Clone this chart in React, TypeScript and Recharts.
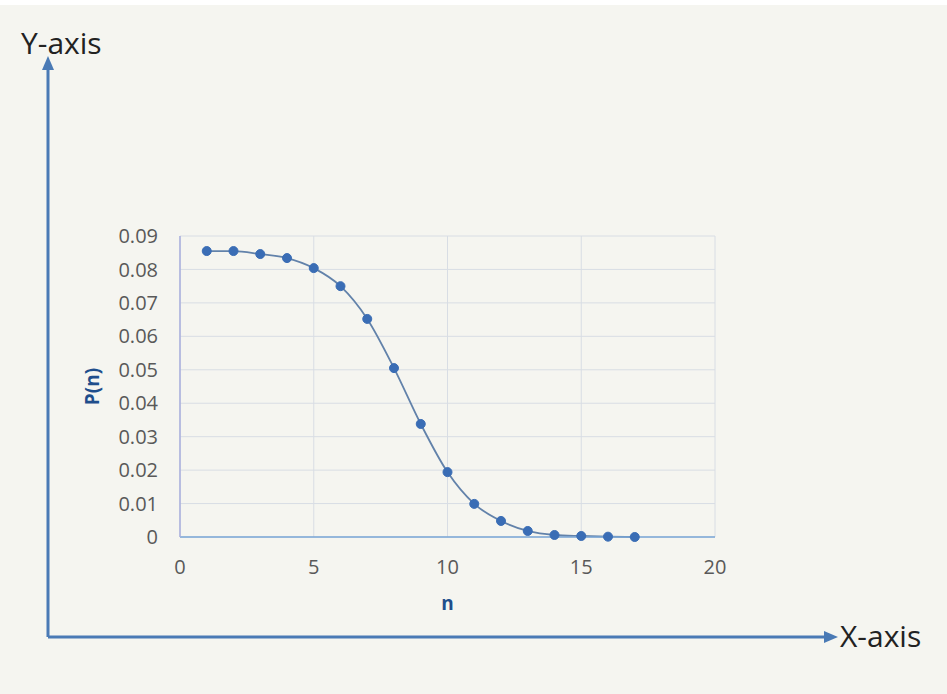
import { LineChart, Line, XAxis, YAxis, CartesianGrid } from "recharts";

const nValues = [1, 2, 3, 4, 5, 6, 7, 8, 9, 10, 11, 12, 13, 14, 15, 16, 17];
const pValues = [
  0.0855, 0.0855, 0.0846, 0.0834, 0.0804, 0.075, 0.0652, 0.0505, 0.0338,
  0.0194, 0.0099, 0.0048, 0.0018, 0.0006, 0.0003, 0.0001, 0.0,
];
const xTicks = [0, 5, 10, 15, 20];
const yTicks = [0, 0.01, 0.02, 0.03, 0.04, 0.05, 0.06, 0.07, 0.08, 0.09];

const data = nValues.map((n, i) => ({ n, p: pValues[i] }));

const BLUE = "#4a7ab5";
const TITLE_BLUE = "#1f4e8c";
const TICK_GREY = "#595959";

export default function App() {
  return (
    <div
      style={{
        position: "relative",
        width: 947,
        height: 694,
        background: "#f5f5f0",
        borderTop: "5px solid #ffffff",
        boxSizing: "border-box",
        fontFamily: "'Open Sans', sans-serif",
      }}
    >
      <style>{"body{margin:0}"}</style>
      <div style={{ position: "absolute", left: 0, top: -5 }}>
        <LineChart
          width={947}
          height={694}
          data={data}
          margin={{ top: 236, right: 232, left: 4, bottom: 25 }}
        >
          <CartesianGrid stroke="#d8dde4" strokeWidth={1} />
          <XAxis
            type="number"
            dataKey="n"
            domain={[0, 20]}
            ticks={xTicks}
            height={132}
            axisLine={{ stroke: "#7aa6d6", strokeWidth: 1.5 }}
            tickLine={false}
            tickMargin={17}
            tick={{ fill: TICK_GREY, fontSize: 20 }}
            label={{
              value: "n",
              position: "center",
              fill: TITLE_BLUE,
              fontSize: 19,
              fontWeight: "bold",
            }}
          />
          <YAxis
            type="number"
            domain={[0, 0.09]}
            ticks={yTicks}
            width={176}
            axisLine={{ stroke: "#a9aedc", strokeWidth: 1.5 }}
            tickLine={false}
            tickMargin={16}
            tick={{ fill: TICK_GREY, fontSize: 20 }}
            tickFormatter={(v: number) => (v === 0 ? "0" : v.toFixed(2))}
            label={{
              value: "P(n)",
              angle: -90,
              position: "center",
              fill: TITLE_BLUE,
              fontSize: 19,
              fontWeight: "bold",
            }}
          />
          <Line
            type="monotone"
            dataKey="p"
            stroke="#6282aa"
            strokeWidth={1.8}
            dot={{ r: 4.5, fill: "#3a6db5", stroke: "#3a6db5", strokeWidth: 1 }}
            isAnimationActive={false}
          />
        </LineChart>
      </div>
      <svg
        width={947}
        height={694}
        style={{ position: "absolute", left: 0, top: -5, pointerEvents: "none" }}
      >
        <line x1={48} y1={637} x2={48} y2={68} stroke={BLUE} strokeWidth={3} />
        <polygon points="48,56 42,70 54,70" fill={BLUE} />
        <line x1={48} y1={637} x2={826} y2={637} stroke={BLUE} strokeWidth={3} />
        <polygon points="838,637 824,631 824,643" fill={BLUE} />
        <text x={21} y={54} fontSize={30} fill="#222" fontFamily="'Open Sans', sans-serif">
          Y-axis
        </text>
        <text x={840} y={647} fontSize={30} fill="#222" fontFamily="'Open Sans', sans-serif">
          X-axis
        </text>
      </svg>
    </div>
  );
}
